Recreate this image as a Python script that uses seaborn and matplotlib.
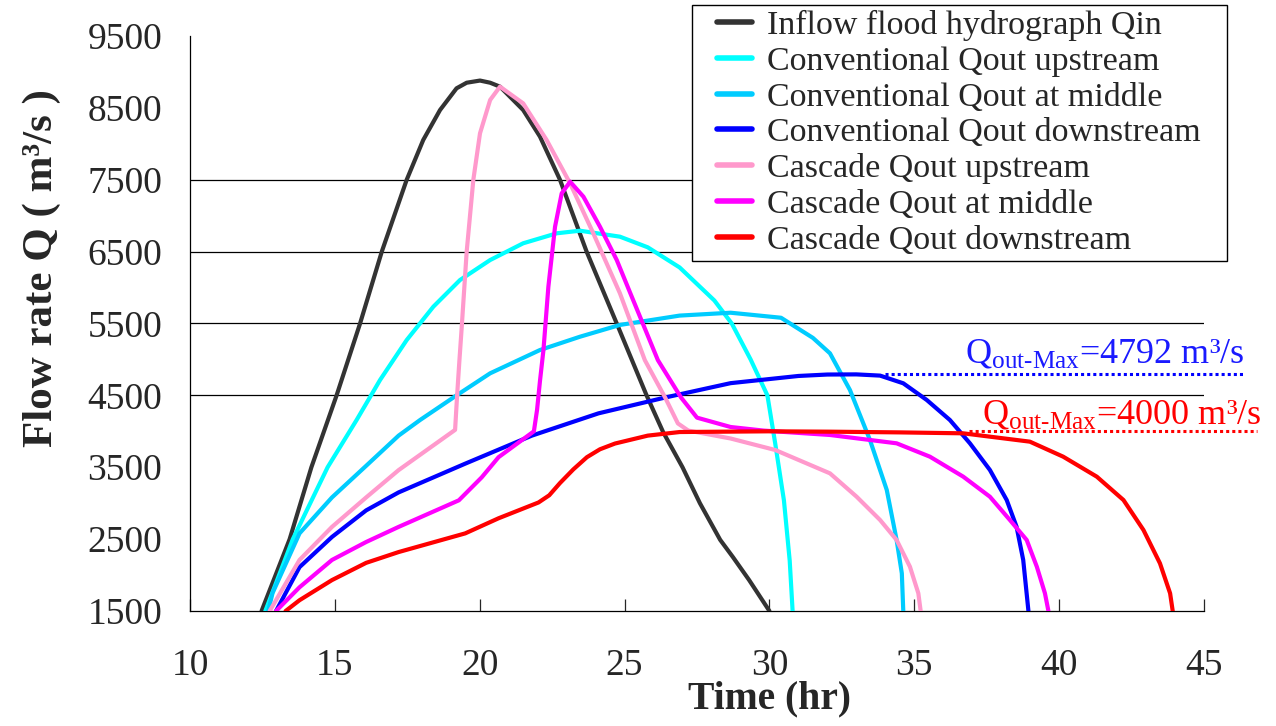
import numpy as np
import pandas as pd
import seaborn as sns
import matplotlib.pyplot as plt
from matplotlib.lines import Line2D
from matplotlib.legend_handler import HandlerLine2D

# Hydrographs: time (hr) and discharge Q (m3/s)
inflow_t = [12.47, 13.44, 14.19, 15.06, 15.87, 16.62, 17.48, 18.05, 18.63, 19.2, 19.55, 20.01, 20.36,
            20.7, 21.5, 22.08, 22.77, 23.69, 24.73, 25.76, 26.33, 27.0, 27.6, 28.3, 28.74, 29.3,
            30.0]
inflow_q = [1500, 2500, 3500, 4500, 5500, 6500, 7500, 8053, 8470, 8772, 8850, 8880, 8850,
            8795, 8470, 8100, 7500, 6500, 5500, 4500, 3990, 3500, 3000, 2490, 2250, 1930,
            1500]

conv_up_t = [12.6, 13.55, 14.75, 15.75, 16.56, 17.48, 18.4, 19.32, 20.36, 21.5, 22.66, 23.46, 24.84,
             25.8, 26.9, 28.1, 28.7, 29.35, 29.93, 30.2, 30.5, 30.7, 30.8]
conv_up_q = [1500, 2500, 3500, 4157, 4714, 5270, 5734, 6105, 6383, 6616, 6755, 6791, 6708,
             6560, 6280, 5820, 5500, 5000, 4500, 3830, 3040, 2200, 1500]

conv_mid_t = [12.7, 12.85, 13.78, 14.9, 16.08, 17.2, 17.94, 19.2, 20.36, 22.08, 23.46, 24.84, 26.9,
              28.66, 30.4, 31.5, 32.09, 32.78, 33.47, 34.05, 34.39, 34.57, 34.62]
conv_mid_q = [1500, 1750, 2580, 3080, 3520, 3940, 4157, 4500, 4807, 5131, 5316, 5480, 5610,
              5650, 5580, 5300, 5085, 4574, 3879, 3184, 2488, 2024, 1500]

conv_down_t = [12.97, 13.78, 14.9, 16.08, 17.2, 19.5, 21.8, 24.1, 26.4, 28.66, 31.0, 32.0, 33.0,
               33.82, 34.62, 35.43, 36.23, 36.92, 37.61, 38.19, 38.53, 38.76, 38.94]
conv_down_q = [1500, 2110, 2530, 2900, 3150, 3550, 3940, 4250, 4470, 4670, 4770, 4790, 4792,
               4775, 4668, 4436, 4157, 3833, 3462, 3044, 2673, 2210, 1500]

casc_up_t = [12.75, 13.78, 14.9, 16.08, 17.2, 19.15, 19.22, 19.3, 19.38, 19.55, 19.78, 20.01, 20.36,
             20.7, 21.5, 22.31, 23.12, 23.92, 24.84, 25.7, 26.4, 26.84, 27.2, 28.66, 30.2, 32.09,
             33.01, 33.82, 34.39, 34.85, 35.14, 35.22]
casc_up_q = [1500, 2210, 2670, 3080, 3460, 4020, 4500, 4990, 5455, 6500, 7500, 8146, 8610,
             8795, 8563, 8053, 7450, 6755, 5920, 4990, 4470, 4110, 4010, 3900, 3740, 3415,
             3090, 2766, 2488, 2116, 1746, 1500]

casc_mid_t = [12.97, 13.78, 14.9, 16.08, 17.2, 19.28, 20.07, 20.65, 21.87, 21.98, 22.08, 22.2, 22.37,
              22.6, 22.83, 23.12, 23.58, 24.15, 24.73, 25.2, 26.15, 26.95, 27.5, 28.66, 29.8,
              32.09, 34.39, 35.54, 36.69, 37.61, 38.3, 38.88, 39.23, 39.51, 39.63]
casc_mid_q = [1500, 1830, 2210, 2460, 2670, 3040, 3360, 3640, 4000, 4300, 4700, 5131, 6012,
              6847, 7311, 7473, 7264, 6847, 6383, 5920, 4990, 4470, 4190, 4060, 4010,
              3949, 3833, 3647, 3369, 3090, 2766, 2488, 2116, 1746, 1500]

casc_down_t = [13.3, 13.78, 14.9, 16.08, 17.2, 19.5, 20.65, 22.03, 22.4, 22.77, 23.23, 23.7, 24.15,
               24.67, 25.8, 26.9, 30.0, 32.09, 34.5, 36.69, 38.99, 40.14, 41.3, 42.22, 42.91,
               43.48, 43.83, 43.92]
casc_down_q = [1500, 1650, 1930, 2170, 2320, 2580, 2790, 3010, 3110, 3280, 3470, 3640, 3750,
               3830, 3940, 3990, 4000, 3995, 3985, 3972, 3856, 3647, 3369, 3044, 2627,
               2163, 1746, 1500]

series_names = ['Inflow flood hydrograph Qin', 'Conventional Qout upstream',
                'Conventional Qout at middle', 'Conventional Qout downstream',
                'Cascade Qout upstream', 'Cascade Qout at middle', 'Cascade Qout downstream']
series_colors = ['#333333', '#00FFFF', '#00CCFF', '#0000FF', '#FF99CC', '#FF00FF', '#FF0000']

times = [inflow_t, conv_up_t, conv_mid_t, conv_down_t, casc_up_t, casc_mid_t, casc_down_t]
flows = [inflow_q, conv_up_q, conv_mid_q, conv_down_q, casc_up_q, casc_mid_q, casc_down_q]

# peak outflow markers
qmax_conv = 4792
qmax_casc = 4000
grid_levels = [4500, 5500, 6500, 7500]

# long format for seaborn
frames = []
for name, t, q in zip(series_names, times, flows):
    frames.append(pd.DataFrame({'Time': t, 'Q': q, 'series': name}))
df = pd.concat(frames, ignore_index=True)

sns.set_style('ticks')
plt.rcParams['font.family'] = ['Liberation Serif', 'DejaVu Serif']
plt.rcParams['mathtext.fontset'] = 'custom'
plt.rcParams['mathtext.rm'] = 'Liberation Serif'
plt.rcParams['mathtext.it'] = 'Liberation Serif:italic'
plt.rcParams['mathtext.bf'] = 'Liberation Serif:bold'

fig = plt.figure(figsize=(12.76, 7.26), dpi=100)
ax = fig.add_axes([190 / 1276, 1 - 611 / 726, 1014 / 1276, 575 / 726])

for lvl in grid_levels:
    ax.axhline(lvl, color='black', lw=0.9, zorder=1)

sns.lineplot(data=df, x='Time', y='Q', hue='series', hue_order=series_names,
             palette=dict(zip(series_names, series_colors)), sort=False, estimator=None,
             linewidth=3, ax=ax, zorder=3)

ax.set_xlim(10, 45)
ax.set_ylim(1500, 9500)
ax.set_xticks(np.arange(10, 46, 5))
ax.set_yticks(np.arange(1500, 9501, 1000))
ax.tick_params(axis='x', direction='in', length=9, width=0.9, labelsize=27, pad=27)
ax.tick_params(axis='y', length=0, labelsize=27, pad=20)
sns.despine(ax=ax)
for s in ['left', 'bottom']:
    ax.spines[s].set_color('black')
    ax.spines[s].set_linewidth(0.9)

ax.set_xlabel('Time (hr)', fontsize=28.5, fontweight='bold')
ax.set_ylabel('Flow rate Q ( m³/s )', fontsize=31, fontweight='bold')
ax.xaxis.set_label_coords((769 - 190) / 1014, (611 - 699) / 575)
ax.xaxis.label.set_verticalalignment('center')
ax.yaxis.set_label_coords((42 - 190) / 1014, (611 - 268) / 575)
ax.yaxis.label.set_verticalalignment('center')

# max outflow dotted markers and labels
ax.plot([34.0, 46.42], [qmax_conv, qmax_conv], color='#0000FF', lw=2.2,
        linestyle=(0, (1, 1)), clip_on=False, zorder=4)
ax.plot([36.9, 46.83], [qmax_casc, qmax_casc], color='#FF0000', lw=2.2,
        linestyle=(0, (1, 1)), clip_on=False, zorder=4)
ax.text(36.75, 4954, r'Q$_{\text{out-Max}}$=%d m³/s' % qmax_conv, color='#1a1aff',
        fontsize=26, va='baseline', ha='left', clip_on=False, zorder=5)
ax.text(37.34, 4104, r'Q$_{\text{out-Max}}$=%d m³/s' % qmax_casc, color='#FF0000',
        fontsize=26, va='baseline', ha='left', clip_on=False, zorder=5)

handles, labels = ax.get_legend_handles_labels()
leg = ax.legend(handles, labels, loc='upper left',
                bbox_to_anchor=(692 / 1276, 1 - 262 / 726, 535 / 1276, 257 / 726),
                bbox_transform=fig.transFigure, mode='expand', frameon=True, fancybox=False,
                edgecolor='black', framealpha=1, fontsize=24.5, handlelength=1.62,
                handletextpad=0.44, labelspacing=0.144, borderpad=0.15, borderaxespad=0,
                handler_map={Line2D: HandlerLine2D(xpad=0.59)})
leg.get_frame().set_linewidth(1.0)
for h in leg.get_lines():
    h.set_linewidth(4)

fig.savefig('out.png', dpi=100)
